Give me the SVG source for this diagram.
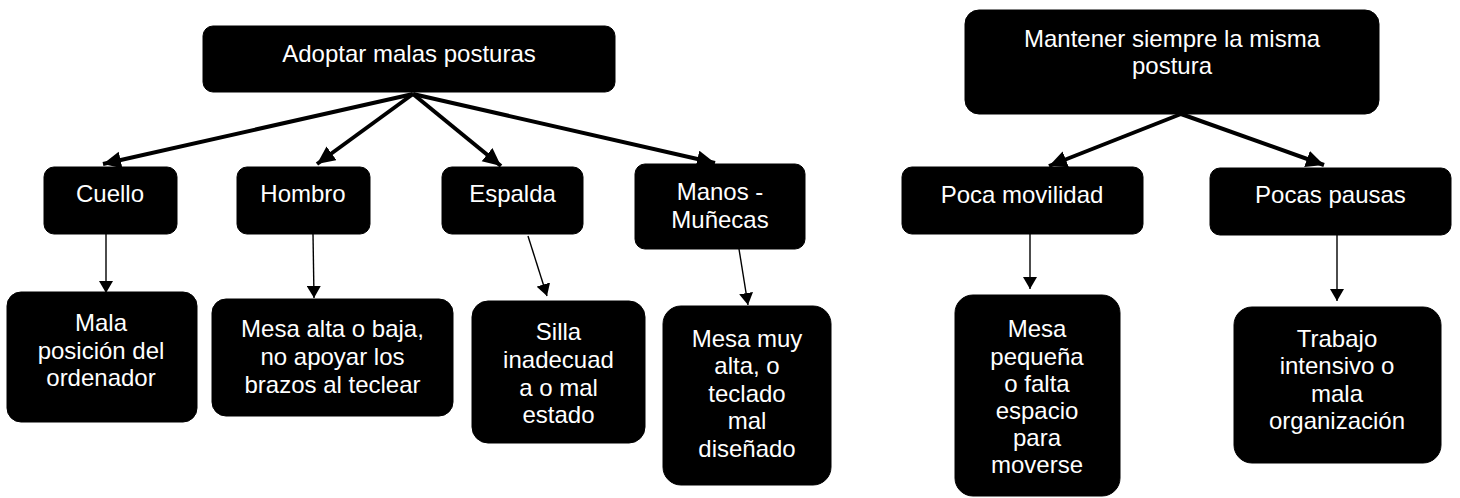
<svg xmlns="http://www.w3.org/2000/svg" width="1460" height="498" viewBox="0 0 1460 498">
<style>
.box{fill:#000;stroke:#000;stroke-width:1}
.t{font-family:"Liberation Sans",Arial,sans-serif;font-size:24px;fill:#fff;text-anchor:middle}
.thick{stroke:#000;stroke-width:4;fill:none}
.thin{stroke:#000;stroke-width:1.4;fill:none}
</style>
<defs>
<marker id="headBig" markerUnits="userSpaceOnUse" markerWidth="20" markerHeight="18" refX="18" refY="8.5" orient="auto">
<path d="M0,0 L18,8.5 L0,17 z" fill="#000"/>
</marker>
<marker id="headSmall" markerUnits="userSpaceOnUse" markerWidth="13" markerHeight="14" refX="12" refY="7" orient="auto">
<path d="M0,0 L12,7 L0,14 z" fill="#000"/>
</marker>
</defs>
<rect width="1460" height="498" fill="#fff"/>
<g id="connectors">
<line class="thick" x1="413" y1="94" x2="103" y2="164" marker-end="url(#headBig)"/>
<line class="thick" x1="413" y1="94" x2="317" y2="164" marker-end="url(#headBig)"/>
<line class="thick" x1="413" y1="94" x2="501" y2="166" marker-end="url(#headBig)"/>
<line class="thick" x1="413" y1="94" x2="715" y2="163" marker-end="url(#headBig)"/>
<line class="thick" x1="1181" y1="114" x2="1049" y2="166" marker-end="url(#headBig)"/>
<line class="thick" x1="1181" y1="114" x2="1324" y2="165" marker-end="url(#headBig)"/>
<line class="thin" x1="106" y1="234" x2="106" y2="293" marker-end="url(#headSmall)"/>
<line class="thin" x1="313" y1="234" x2="314" y2="298" marker-end="url(#headSmall)"/>
<line class="thin" x1="528" y1="236" x2="547" y2="296" marker-end="url(#headSmall)"/>
<line class="thin" x1="739" y1="249" x2="748" y2="305" marker-end="url(#headSmall)"/>
<line class="thin" x1="1030" y1="234" x2="1030" y2="289" marker-end="url(#headSmall)"/>
<line class="thin" x1="1337" y1="235" x2="1337" y2="301" marker-end="url(#headSmall)"/>
</g>
<g id="n-adoptar"><rect class="box" x="203" y="26" width="412" height="66" rx="10"/><text class="t" x="409" y="62">Adoptar malas posturas</text></g>
<g id="n-cuello"><rect class="box" x="44" y="167" width="133" height="67" rx="10"/><text class="t" x="110" y="202">Cuello</text></g>
<g id="n-hombro"><rect class="box" x="237" y="167" width="133" height="67" rx="10"/><text class="t" x="303" y="202">Hombro</text></g>
<g id="n-espalda"><rect class="box" x="442" y="167" width="141" height="67" rx="10"/><text class="t" x="512.5" y="202">Espalda</text></g>
<g id="n-manos"><rect class="box" x="635" y="164" width="170" height="85" rx="10"/><text class="t" x="720" y="199.5">Manos -</text><text class="t" x="720" y="227.5">Muñecas</text></g>
<g id="n-mantener"><rect class="box" x="965" y="10" width="414" height="104" rx="14"/><text class="t" x="1172" y="47">Mantener siempre la misma</text><text class="t" x="1172" y="74">postura</text></g>
<g id="n-poca-movilidad"><rect class="box" x="902" y="167" width="241" height="67" rx="10"/><text class="t" x="1022" y="203">Poca movilidad</text></g>
<g id="n-pocas-pausas"><rect class="box" x="1210" y="168" width="241" height="67" rx="10"/><text class="t" x="1330.5" y="203">Pocas pausas</text></g>
<g id="n-mala-posicion"><rect class="box" x="7" y="292" width="190" height="130" rx="14"/><text class="t" x="101" y="331">Mala</text><text class="t" x="101" y="358.5">posición del</text><text class="t" x="101" y="386">ordenador</text></g>
<g id="n-mesa-alta-baja"><rect class="box" x="212" y="299" width="241" height="117" rx="14"/><text class="t" x="332.5" y="337">Mesa alta o baja,</text><text class="t" x="332.5" y="365">no apoyar los</text><text class="t" x="332.5" y="392.7">brazos al teclear</text></g>
<g id="n-silla"><rect class="box" x="472" y="301" width="173" height="142" rx="16"/><text class="t" x="558.5" y="340">Silla</text><text class="t" x="558.5" y="368">inadecuad</text><text class="t" x="558.5" y="396">a o mal</text><text class="t" x="558.5" y="423">estado</text></g>
<g id="n-mesa-muy-alta"><rect class="box" x="663" y="306" width="168" height="179" rx="18"/><text class="t" x="747" y="346.7">Mesa muy</text><text class="t" x="747" y="374">alta, o</text><text class="t" x="747" y="401.7">teclado</text><text class="t" x="747" y="429">mal</text><text class="t" x="747" y="456.7">diseñado</text></g>
<g id="n-mesa-pequena"><rect class="box" x="955" y="295" width="165" height="201" rx="18"/><text class="t" x="1037" y="337">Mesa</text><text class="t" x="1037" y="364.5">pequeña</text><text class="t" x="1037" y="391.7">o falta</text><text class="t" x="1037" y="418.5">espacio</text><text class="t" x="1037" y="445.5">para</text><text class="t" x="1037" y="472.7">moverse</text></g>
<g id="n-trabajo"><rect class="box" x="1234" y="307" width="207" height="156" rx="18"/><text class="t" x="1337" y="346.7">Trabajo</text><text class="t" x="1337" y="374">intensivo o</text><text class="t" x="1337" y="401.7">mala</text><text class="t" x="1337" y="429">organización</text></g>
</svg>
